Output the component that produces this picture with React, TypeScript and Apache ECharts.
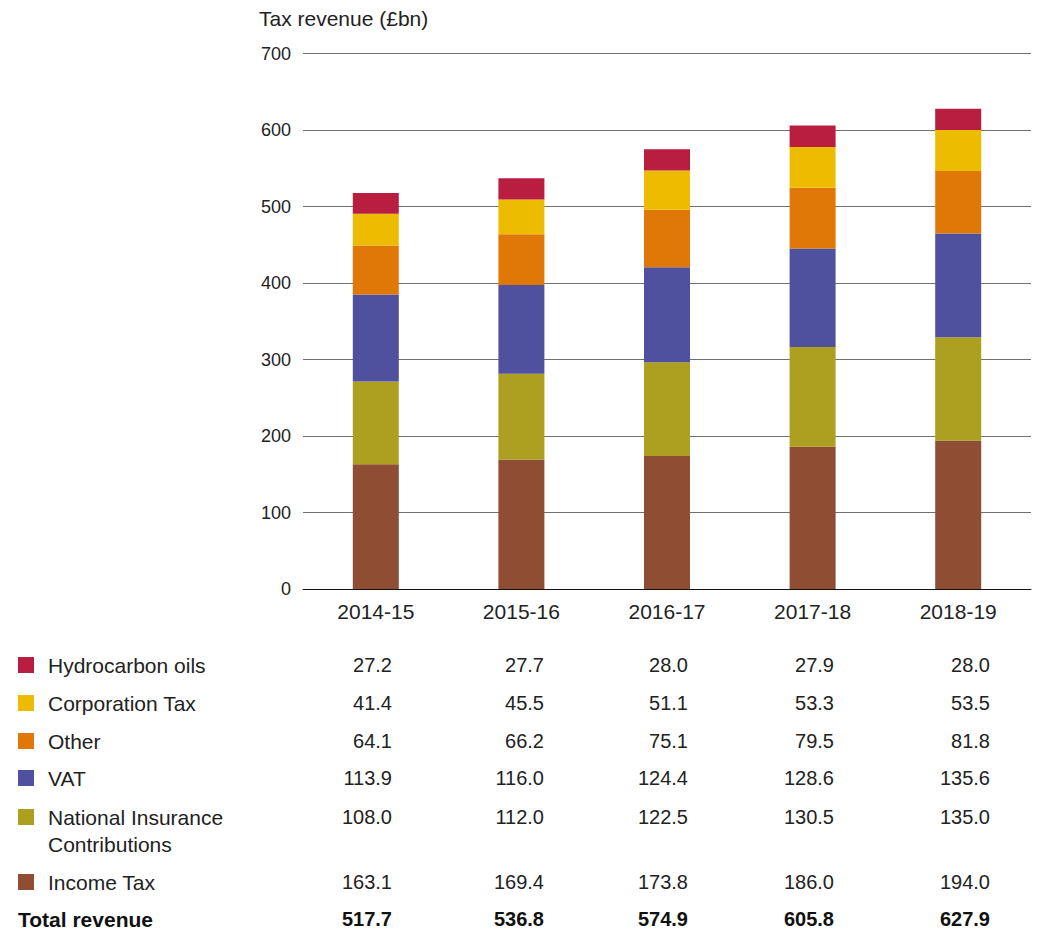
import React, { useEffect, useRef } from "react";
import * as echarts from "echarts";

const years = ["2014-15", "2015-16", "2016-17", "2017-18", "2018-19"];
const incomeTax = [163.1, 169.4, 173.8, 186.0, 194.0];
const nationalInsurance = [108.0, 112.0, 122.5, 130.5, 135.0];
const vat = [113.9, 116.0, 124.4, 128.6, 135.6];
const other = [64.1, 66.2, 75.1, 79.5, 81.8];
const corporationTax = [41.4, 45.5, 51.1, 53.3, 53.5];
const hydrocarbonOils = [27.2, 27.7, 28.0, 27.9, 28.0];
const totalRevenue = [517.7, 536.8, 574.9, 605.8, 627.9];
const yMin = 0;
const yMax = 700;
const yStep = 100;

const FONT = "'Liberation Sans', Arial, Helvetica, sans-serif";
const TEXT = "#222222";

// series in stacking order (bottom to top)
const seriesDefs = [
  { name: "Income Tax", label: "Income Tax", data: incomeTax, color: "#8F4D33" },
  { name: "National Insurance Contributions", label: "National Insurance\nContributions", data: nationalInsurance, color: "#AD9F20" },
  { name: "VAT", label: "VAT", data: vat, color: "#50519E" },
  { name: "Other", label: "Other", data: other, color: "#E07808" },
  { name: "Corporation Tax", label: "Corporation Tax", data: corporationTax, color: "#EDBC00" },
  { name: "Hydrocarbon oils", label: "Hydrocarbon oils", data: hydrocarbonOils, color: "#B91D40" },
];

// table layout
const rowY = [665, 703, 741, 778, 817, 882, 919];
const colRight = [392, 544, 688, 834, 990];

export default function App() {
  const ref = useRef<HTMLDivElement>(null);
  useEffect(() => {
    document.body.style.margin = "0";
    if (!ref.current) return;
    const chart = echarts.init(ref.current, undefined, { renderer: "svg" });

    const tableRows = [...seriesDefs].reverse();
    const graphics: any[] = [];
    tableRows.forEach((s, i) => {
      const y = rowY[i];
      graphics.push({
        type: "rect",
        shape: { x: 18, y: y - 8, width: 16, height: 16 },
        style: { fill: s.color },
      });
      graphics.push({
        type: "text",
        x: 48,
        y: y - 13.5,
        style: {
          text: s.label,
          font: `21px ${FONT}`,
          fill: TEXT,
          lineHeight: 27,
          textAlign: "left",
          textVerticalAlign: "top",
        },
      });
      s.data.forEach((v, j) => {
        graphics.push({
          type: "text",
          x: colRight[j],
          y: y,
          style: {
            text: v.toFixed(1),
            font: `20px ${FONT}`,
            fill: TEXT,
            textAlign: "right",
            textVerticalAlign: "middle",
          },
        });
      });
    });
    const ty = rowY[rowY.length - 1];
    graphics.push({
      type: "text",
      x: 18,
      y: ty,
      style: {
        text: "Total revenue",
        font: `bold 21px ${FONT}`,
        fill: "#111",
        textAlign: "left",
        textVerticalAlign: "middle",
      },
    });
    totalRevenue.forEach((v, j) => {
      graphics.push({
        type: "text",
        x: colRight[j],
        y: ty,
        style: {
          text: v.toFixed(1),
          font: `bold 20px ${FONT}`,
          fill: "#111",
          textAlign: "right",
          textVerticalAlign: "middle",
        },
      });
    });

    chart.setOption({
      animation: false,
      title: {
        text: "Tax revenue (£bn)",
        left: 254,
        top: 3,
        textStyle: { fontFamily: FONT, fontSize: 21, fontWeight: "normal", color: TEXT },
      },
      grid: { left: 303, top: 53.5, width: 728, height: 535.5, containLabel: false },
      xAxis: {
        type: "category",
        data: years,
        axisLine: { show: true, lineStyle: { color: "#111", width: 1 } },
        axisTick: { show: false },
        axisLabel: { fontFamily: FONT, fontSize: 21, color: TEXT, margin: 12 },
      },
      yAxis: {
        type: "value",
        min: yMin,
        max: yMax,
        interval: yStep,
        axisLine: { show: false },
        axisTick: { show: false },
        axisLabel: { fontFamily: FONT, fontSize: 18, color: TEXT, margin: 12 },
        splitLine: { lineStyle: { color: "#707070", width: 1 } },
      },
      series: seriesDefs.map((s) => ({
        name: s.name,
        type: "bar",
        stack: "total",
        data: s.data,
        barWidth: 46,
        itemStyle: { color: s.color },
      })),
      graphic: graphics,
    });
    return () => chart.dispose();
  }, []);
  return <div ref={ref} style={{ width: 1037, height: 930 }} />;
}
